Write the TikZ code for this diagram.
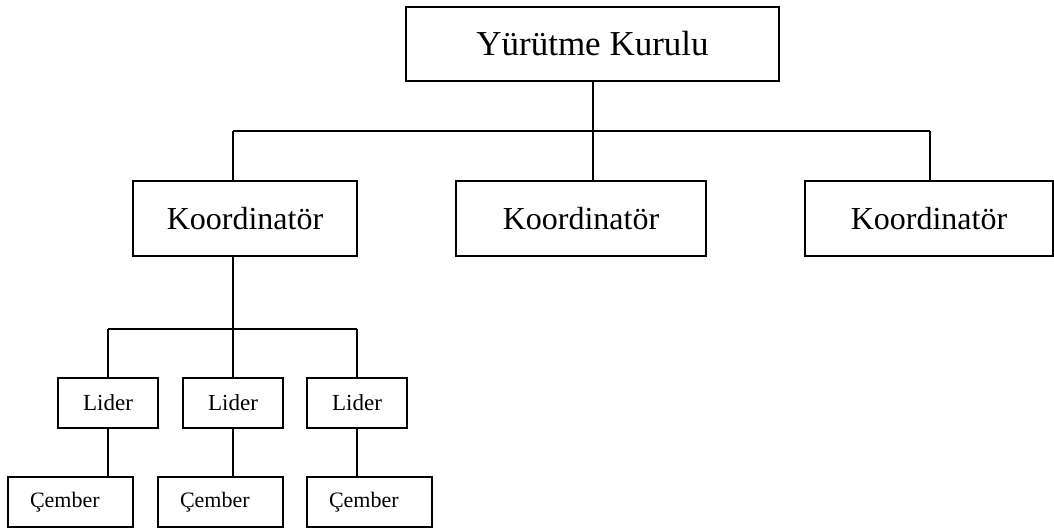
\documentclass[tikz,border=0pt]{standalone}
\usepackage{fontspec}
\setmainfont{Liberation Serif}
\begin{document}
\begin{tikzpicture}[x=1pt,y=-1pt,
  box/.style={draw, line width=2pt, rectangle, inner sep=0pt, align=center},
  conn/.style={line width=2pt}]
\useasboundingbox (0,0) rectangle (1054,528);
\node[box, minimum width=373pt, minimum height=74pt, font=\fontsize{35}{40}\selectfont] (top) at (592.5,44) {Yürütme Kurulu};
\node[box, minimum width=224pt, minimum height=75pt, font=\fontsize{32}{38}\selectfont] (k1) at (245,218.5) {Koordinatör};
\node[box, minimum width=250pt, minimum height=75pt, font=\fontsize{32}{38}\selectfont] (k2) at (581,218.5) {Koordinatör};
\node[box, minimum width=248pt, minimum height=75pt, font=\fontsize{32}{38}\selectfont] (k3) at (929,218.5) {Koordinatör};
\node[box, minimum width=100pt, minimum height=50pt, font=\fontsize{23}{28}\selectfont] (l1) at (108,403) {Lider};
\node[box, minimum width=100pt, minimum height=50pt, font=\fontsize{23}{28}\selectfont] (l2) at (233,403) {Lider};
\node[box, minimum width=100pt, minimum height=50pt, font=\fontsize{23}{28}\selectfont] (l3) at (357,403) {Lider};
\tikzset{cbox/.style={box, minimum height=50pt, inner xsep=22pt, text width=81pt, align=left, font=\fontsize{22}{26}\selectfont}}
\node[cbox] (c1) at (70.5,502) {Çember};
\node[cbox] (c2) at (220.5,502) {Çember};
\node[cbox] (c3) at (369.5,502) {Çember};
\coordinate (bl) at (233,131);
\coordinate (br) at (930,131);
\coordinate (lb) at (108,329);
\coordinate (rb) at (357,329);
\draw[conn] (top.south) -- (top.south |- bl);
\draw[conn] (bl) -- (br);
\draw[conn] (bl) -- (bl |- k1.north);
\draw[conn] (top.south |- bl) -- (top.south |- k2.north);
\draw[conn] (br) -- (br |- k3.north);
\draw[conn] (k1.south -| l2) -- (l2.north);
\draw[conn] (lb) -- (rb);
\draw[conn] (lb) -- (l1.north);
\draw[conn] (rb) -- (l3.north);
\draw[conn] (l1.south) -- (l1.south |- c1.north);
\draw[conn] (l2.south) -- (l2.south |- c2.north);
\draw[conn] (l3.south) -- (l3.south |- c3.north);
\end{tikzpicture}
\end{document}
